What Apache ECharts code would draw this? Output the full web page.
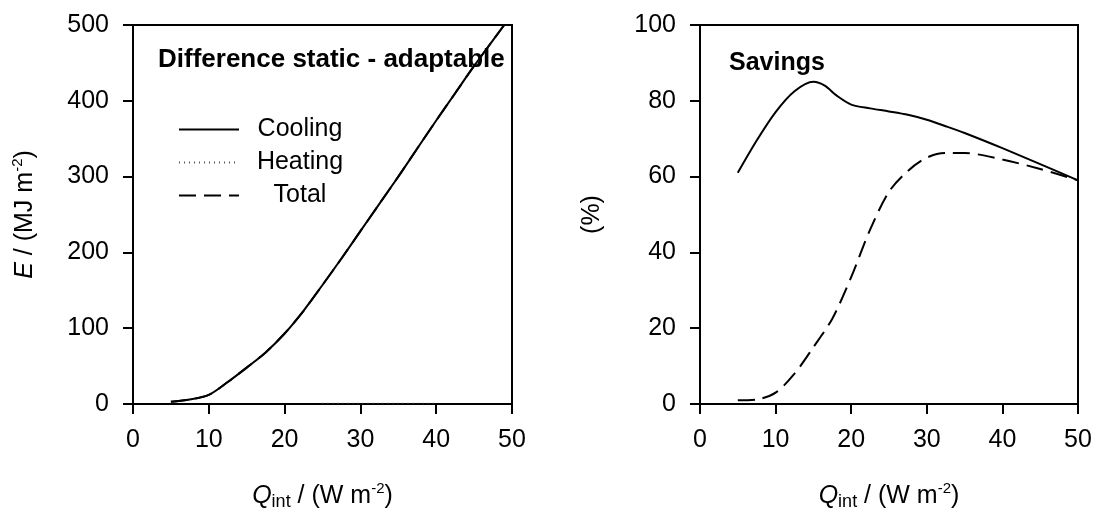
<!DOCTYPE html>
<html>
<head>
<meta charset="utf-8">
<script src="https://cdn.jsdelivr.net/npm/echarts@6/dist/echarts.min.js"></script>
<style>
  html, body { margin: 0; padding: 0; background: #fff; }
  #chart { width: 1097px; height: 523px; }
</style>
</head>
<body>
<div id="chart"></div>
<script>
// 左图：静态与可调之差 (MJ m-2)
const qDiff = [5, 7.5, 10, 12.5, 15, 17.5, 20, 22.5, 25, 27.5, 30, 32.5, 35, 37.5, 40, 42.5, 45, 47.5, 50];
const coolingDiff = [3, 6, 12, 29, 48, 68, 93, 123, 157, 192, 228, 264, 300, 337, 374, 410, 446, 480, 514];
const totalDiff = [3, 6, 12, 29, 48, 68, 93, 123, 157, 192, 228, 264, 300, 337, 374, 410, 446, 480, 514];
const qHeat = [25, 27.5, 30, 32.5, 35, 37.5, 40];
const heatingDiff = [1, 1, 1, 1, 1, 1, 1];

// 右图：节省比例 (%)
const qSave = [5, 7.5, 10, 12.5, 15, 16.5, 18, 20, 22.5, 25, 27.5, 30, 32.5, 35, 40, 45, 50];
const coolingSave = [61, 69.5, 77, 82.5, 85, 84, 81.5, 79, 78, 77.2, 76.3, 75, 73.3, 71.5, 67.5, 63.3, 59];
const qSaveT = [5, 7.5, 10, 12.5, 15, 17.5, 20, 22.5, 25, 27.5, 30, 32.5, 35, 40, 45, 50];
const totalSave = [1, 1.2, 3, 8, 15, 22.5, 33.5, 46, 56, 61.5, 65, 66.2, 66.2, 64.5, 62, 59];

const font = 'Liberation Sans, Arial, sans-serif';
const chart = echarts.init(document.getElementById('chart'));

const pair = (xs, ys) => xs.map((x, i) => [x, ys[i]]);

const nameRich = {
  n: { fontSize: 25, lineHeight: 30, fontFamily: font, color: '#000', verticalAlign: 'middle' },
  i: { fontSize: 25, lineHeight: 30, fontFamily: font, color: '#000', fontStyle: 'italic', verticalAlign: 'middle' },
  sub: { fontSize: 18, lineHeight: 14, fontFamily: font, color: '#000', verticalAlign: 'bottom' },
  sup: { fontSize: 15, lineHeight: 12, fontFamily: font, color: '#000', verticalAlign: 'top' },
};

function xAxisCfg(idx) {
  return {
    type: 'value',
    gridIndex: idx,
    min: 0,
    max: 50,
    interval: 10,
    name: '{i|Q}{sub|int}{n| / (W m}{sup|-2}{n|)}',
    nameLocation: 'middle',
    nameGap: 77,
    nameTextStyle: { rich: nameRich },
    axisLine: { onZero: false, lineStyle: { color: '#000', width: 2 } },
    axisTick: { show: true, inside: false, length: 10, lineStyle: { color: '#000', width: 2 } },
    axisLabel: { color: '#000', fontSize: 25, fontFamily: font, margin: 24 },
    splitLine: { show: false },
  };
}

function yAxisCfg(idx, max, interval, name) {
  return {
    type: 'value',
    gridIndex: idx,
    min: 0,
    max: max,
    interval: interval,
    name: name,
    nameLocation: 'middle',
    nameGap: 93,
    nameRotate: 90,
    nameTextStyle: { rich: nameRich },
    axisLine: { show: true, onZero: false, lineStyle: { color: '#000', width: 2 } },
    axisTick: { show: true, inside: false, length: 10, lineStyle: { color: '#000', width: 2 } },
    axisLabel: { color: '#000', fontSize: 25, fontFamily: font, margin: 24 },
    splitLine: { show: false },
  };
}

function line(name, data, xi, type, width, color) {
  return {
    name: name,
    type: 'line',
    xAxisIndex: xi,
    yAxisIndex: xi,
    data: data,
    smooth: 0.3,
    symbol: 'none',
    clip: true,
    lineStyle: { color: color || '#000', width: width, type: type },
    itemStyle: { color: color || '#000' },
    emphasis: { disabled: true },
  };
}

const option = {
  backgroundColor: '#fff',
  animation: false,
  textStyle: { fontFamily: font },
  grid: [
    { left: 133, right: 585, top: 25, bottom: 119, show: true, borderColor: '#000', borderWidth: 2 },
    { left: 700, right: 19, top: 25, bottom: 119, show: true, borderColor: '#000', borderWidth: 2 },
  ],
  title: [
    { text: 'Difference static - adaptable', left: 153, top: 42,
      textStyle: { fontSize: 26, fontWeight: 'bold', fontFamily: font, color: '#000' } },
    { text: 'Savings', left: 724, top: 46,
      textStyle: { fontSize: 25, fontWeight: 'bold', fontFamily: font, color: '#000' } },
  ],
  legend: {
    data: ['Cooling', 'Heating', 'Total'],
    orient: 'vertical',
    left: 173,
    top: 112,
    itemWidth: 60,
    itemHeight: 14,
    itemGap: 8,
    selectedMode: false,
    itemStyle: { color: 'transparent', borderColor: 'transparent', borderWidth: 0 },
    formatter: '{t|{name}}',
    textStyle: {
      rich: { t: { fontSize: 25, lineHeight: 30, width: 112, align: 'center', fontFamily: font, color: '#000' } },
    },
  },
  xAxis: [xAxisCfg(0), xAxisCfg(1)],
  yAxis: [
    yAxisCfg(0, 500, 100, '{i|E}{n| / (MJ m}{sup|-2}{n|)}'),
    yAxisCfg(1, 100, 20, '{n|(%)}'),
  ],
  series: [
    line('Cooling', pair(qDiff, coolingDiff), 0, 'solid', 2),
    line('Heating', pair(qHeat, heatingDiff), 0, [1, 4], 1, '#555'),
    line('Total', pair(qDiff, totalDiff), 0, [17, 8], 2),
    line('Cooling', pair(qSave, coolingSave), 1, 'solid', 2),
    line('Total', pair(qSaveT, totalSave), 1, [17, 8], 2),
  ],
};

chart.setOption(option);
</script>
</body>
</html>
